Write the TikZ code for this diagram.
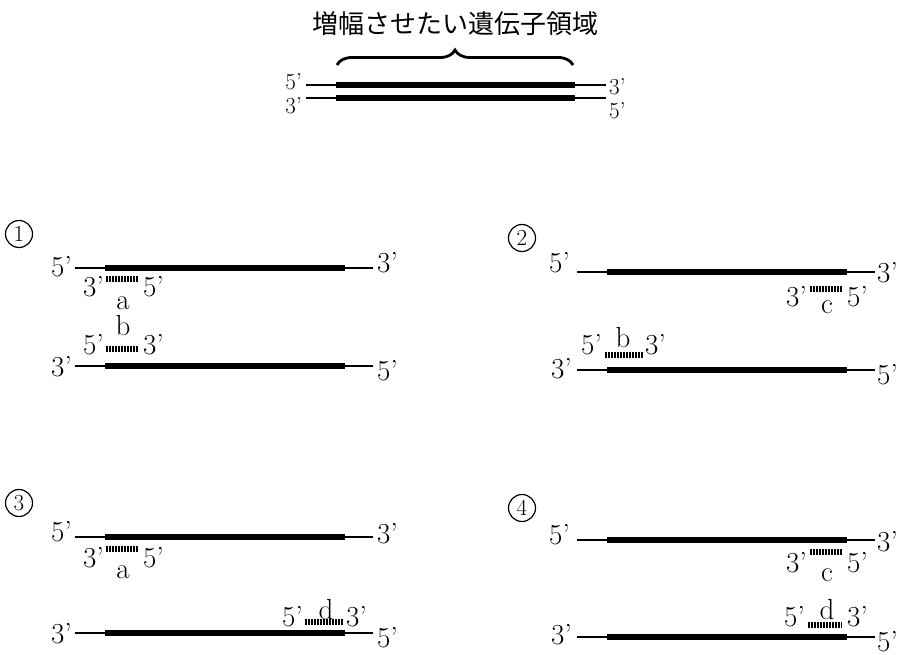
\documentclass[tikz,border=0pt]{standalone}
\usepackage{fontspec}
\newfontfamily\jpfont{Noto Sans CJK JP}
\usetikzlibrary{calc,decorations.pathreplacing}

\tikzset{
  thin strand/.style={line width=1.4pt},
  thick strand/.style={line width=5.5pt},
  primer/.style={line width=6.5pt, dash pattern=on 1.5pt off 1.5pt},
  endlabel/.style={inner sep=0pt, font=\fontsize{29}{29}\selectfont},
  toplabel/.style={inner sep=0pt, font=\fontsize{23}{23}\selectfont},
  panelnum/.style={circle, draw, line width=1.2pt, inner sep=0pt,
    minimum size=27pt, font=\fontsize{23}{23}\selectfont},
  titletext/.style={inner sep=0pt, font=\jpfont\fontsize{26}{26}\selectfont},
  bracket/.style={line width=2.8pt, decorate, decoration={brace, amplitude=15pt}},
}

% DNA strand: name, y, x of thin start, thick start, thick end, thin end
\newcommand\strandline[6]{%
  \coordinate (#1-1) at (#3,#2);
  \coordinate (#1-2) at (#4,#2);
  \coordinate (#1-3) at (#5,#2);
  \coordinate (#1-4) at (#6,#2);
  \draw[thin strand] (#1-1) -- (#1-2);
  \draw[thick strand] (#1-2) -- (#1-3);
  \draw[thin strand] (#1-3) -- (#1-4);
}
% primer: name, y, x start, x end
\newcommand\primerline[4]{%
  \coordinate (#1-1) at (#3,#2);
  \coordinate (#1-2) at (#4,#2);
  \draw[primer] (#1-1) -- (#1-2);
}

\begin{document}
\begin{tikzpicture}[x=1pt,y=-1pt]
\useasboundingbox (0,0) rectangle (903,655);

% ---- target region ----
\node[titletext] (title) at (455,24) {増幅させたい遺伝子領域};
\coordinate (brL) at (337,65);
\coordinate (brR) at (573,65);
\draw[bracket] (brL) -- (brR);

\strandline{s1}{85}{306}{336}{575}{606}
\strandline{s2}{98}{306}{336}{575}{606}
\node[toplabel, anchor=base east] (s1L) at (302,90) {5'};
\node[toplabel, anchor=base east] (s2L) at (302,114) {3'};
\node[toplabel, anchor=base west] (s1R) at (609,95) {3'};
\node[toplabel, anchor=base west] (s2R) at (609,119) {5'};

% ---- panel 1 ----
\node[panelnum] (n1) at (19,234) {1};
\strandline{t1}{268}{75}{105}{345}{373}
\node[endlabel, anchor=base east] (t1L) at (72,277) {5'};
\node[endlabel, anchor=base west] (t1R) at (377,273) {3'};
\primerline{a1}{279}{106}{139}
\node[endlabel, anchor=base east] (a1L) at (104,297) {3'};
\node[endlabel, anchor=base west] (a1R) at (143,297) {5'};
\node[endlabel, anchor=base] (a1n) at (123,309) {a};
\strandline{b1}{366}{75}{105}{345}{373}
\node[endlabel, anchor=base east] (b1L) at (72,377) {3'};
\node[endlabel, anchor=base west] (b1R) at (377,381) {5'};
\primerline{p1}{349}{106}{139}
\node[endlabel, anchor=base east] (p1L) at (104,355) {5'};
\node[endlabel, anchor=base west] (p1R) at (143,355) {3'};
\node[endlabel, anchor=base] (p1n) at (123,336) {b};

% ---- panel 2 ----
\node[panelnum] (n2) at (522,238) {2};
\strandline{t2}{272}{577}{607}{847}{875}
\node[endlabel, anchor=base east] (t2L) at (570,273) {5'};
\node[endlabel, anchor=base west] (t2R) at (877,283) {3'};
\primerline{c2}{289}{810}{843}
\node[endlabel, anchor=base east] (c2L) at (807,307) {3'};
\node[endlabel, anchor=base west] (c2R) at (847,307) {5'};
\node[endlabel, anchor=base] (c2n) at (827,314) {c};
\strandline{b2}{370}{577}{607}{847}{875}
\node[endlabel, anchor=base east] (b2L) at (572,378) {3'};
\node[endlabel, anchor=base west] (b2R) at (877,384) {5'};
\primerline{p2}{355}{605}{643}
\node[endlabel, anchor=base east] (p2L) at (602,354) {5'};
\node[endlabel, anchor=base west] (p2R) at (645,354) {3'};
\node[endlabel, anchor=base] (p2n) at (623,347) {b};

% ---- panel 3 ----
\node[panelnum] (n3) at (19,503) {3};
\strandline{t3}{537}{75}{105}{345}{373}
\node[endlabel, anchor=base east] (t3L) at (72,541) {5'};
\node[endlabel, anchor=base west] (t3R) at (377,543) {3'};
\primerline{a3}{549}{106}{139}
\node[endlabel, anchor=base east] (a3L) at (104,567) {3'};
\node[endlabel, anchor=base west] (a3R) at (143,567) {5'};
\node[endlabel, anchor=base] (a3n) at (123,578) {a};
\strandline{b3}{633}{75}{105}{345}{373}
\node[endlabel, anchor=base east] (b3L) at (72,643) {3'};
\node[endlabel, anchor=base west] (b3R) at (377,647) {5'};
\primerline{d3}{622}{305}{343}
\node[endlabel, anchor=base east] (d3L) at (303,626) {5'};
\node[endlabel, anchor=base west] (d3R) at (346,626) {3'};
\node[endlabel, anchor=base] (d3n) at (326,619) {d};

% ---- panel 4 ----
\node[panelnum] (n4) at (522,508) {4};
\strandline{t4}{540}{577}{607}{847}{875}
\node[endlabel, anchor=base east] (t4L) at (570,544) {5'};
\node[endlabel, anchor=base west] (t4R) at (877,551) {3'};
\primerline{c4}{552}{810}{843}
\node[endlabel, anchor=base east] (c4L) at (807,572) {3'};
\node[endlabel, anchor=base west] (c4R) at (847,572) {5'};
\node[endlabel, anchor=base] (c4n) at (827,581) {c};
\strandline{b4}{637}{577}{607}{847}{875}
\node[endlabel, anchor=base east] (b4L) at (572,644) {3'};
\node[endlabel, anchor=base west] (b4R) at (877,651) {5'};
\primerline{d4}{625}{808}{842}
\node[endlabel, anchor=base east] (d4L) at (805,626) {5'};
\node[endlabel, anchor=base west] (d4R) at (847,626) {3'};
\node[endlabel, anchor=base] (d4n) at (827,619) {d};
\end{tikzpicture}
\end{document}
